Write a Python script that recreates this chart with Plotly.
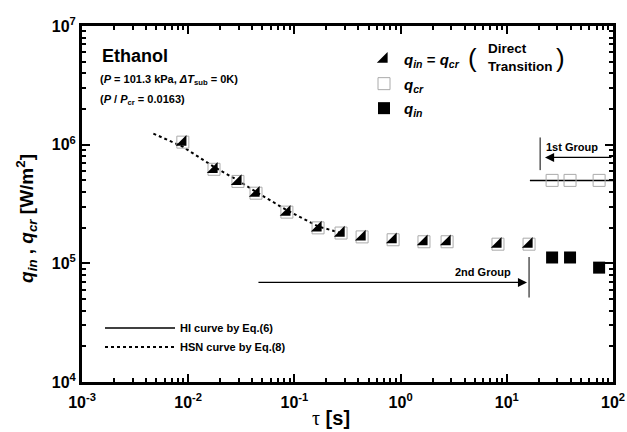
import numpy as np
import plotly.graph_objects as go

# ---- data ----
tau_dt = [0.0089, 0.0175, 0.0294, 0.0435, 0.085, 0.167, 0.275, 0.434, 0.85, 1.66, 2.74, 8.26, 16.2]
q_dt = [1.05e6, 6.2e5, 4.9e5, 3.9e5, 2.7e5, 1.99e5, 1.8e5, 1.67e5, 1.58e5, 1.52e5, 1.52e5, 1.45e5, 1.45e5]

tau_g1 = [26.7, 39.4, 74.0]
q_cr_g1 = [5.0e5, 5.0e5, 5.0e5]
q_in_g1 = [1.12e5, 1.12e5, 9.2e4]

hi_tau = [16.5, 100.0]
hi_q = [5.0e5, 5.0e5]

hsn_tau = [0.0047, 0.0089, 0.0175, 0.0294, 0.0435, 0.085, 0.167, 0.275]
hsn_q = [1.24e6, 9.6e5, 6.5e5, 5.0e5, 4.0e5, 2.8e5, 2.05e5, 1.8e5]

# group markers
g1_line_tau = [20.6, 20.6]
g1_line_q = [6.1e5, 1.15e6]
g1_arrow_tau = [100.0, 22.9]
g1_arrow_q = 7.8e5
g2_line_tau = [16.2, 16.2]
g2_line_q = [5.15e4, 1.13e5]
g2_arrow_tau = [0.0444, 15.5]
g2_arrow_q = 6.9e4

x_ticks = [1e-3, 1e-2, 1e-1, 1e0, 1e1, 1e2]
x_ticktext = ["10<sup>-3</sup>", "10<sup>-2</sup>", "10<sup>-1</sup>", "10<sup>0</sup>", "10<sup>1</sup>", "10<sup>2</sup>"]
y_ticks = [1e4, 1e5, 1e6, 1e7]
y_ticktext = ["10<sup>4</sup>", "10<sup>5</sup>", "10<sup>6</sup>", "10<sup>7</sup>"]

FONT = "Liberation Sans, Arial, sans-serif"

x_minor = [k * 10.0 ** n for n in range(-3, 2) for k in range(2, 10)]
y_minor = [k * 10.0 ** n for n in range(4, 7) for k in range(2, 10)]

fig = go.Figure()

# curves (bottom-left legend)
fig.add_trace(go.Scatter(x=hi_tau, y=hi_q, mode="lines", line=dict(color="black", width=1.5),
                         name="<b>HI curve by Eq.(6)</b>", legend="legend2"))
fig.add_trace(go.Scatter(x=hsn_tau, y=hsn_q, mode="lines", line=dict(color="black", width=2, dash="dot"),
                         name="<b>HSN curve by Eq.(8)</b>", legend="legend2"))

# direct transition: dotted outline + filled lower-right triangle
fig.add_trace(go.Scatter(x=tau_dt, y=q_dt, mode="markers", showlegend=False,
                         marker=dict(symbol="square-open", size=12, color="#aaaaaa", line=dict(width=1))))
fig.add_trace(go.Scatter(x=tau_dt, y=q_dt, mode="markers", legendgroup="a",
                         name="<b><i>q<sub>in</sub></i> = <i>q<sub>cr</sub></i></b>",
                         marker=dict(symbol="triangle-se", size=12, color="black")))
fig.add_trace(go.Scatter(x=tau_g1, y=q_cr_g1, mode="markers", legendgroup="b",
                         name="<b><i>q<sub>cr</sub></i></b>",
                         marker=dict(symbol="square-open", size=12, color="#aaaaaa", line=dict(width=1))))
fig.add_trace(go.Scatter(x=tau_g1, y=q_in_g1, mode="markers", legendgroup="c",
                         name="<b><i>q<sub>in</sub></i></b>",
                         marker=dict(symbol="square", size=12, color="black")))

# group boundary lines
fig.add_trace(go.Scatter(x=g1_line_tau, y=g1_line_q, mode="lines", showlegend=False,
                         line=dict(color="black", width=1)))
fig.add_trace(go.Scatter(x=g2_line_tau, y=g2_line_q, mode="lines", showlegend=False,
                         line=dict(color="black", width=1)))

def px_x(p):
    return (p - 82) / 531.0

def px_y(p):
    return 1 - (p - 25) / 358.0

ann = []
# arrows (log axes -> log10 coordinates for annotations)
ann.append(dict(x=np.log10(g1_arrow_tau[1]), y=np.log10(g1_arrow_q), ax=np.log10(g1_arrow_tau[0]),
                ay=np.log10(g1_arrow_q), xref="x", yref="y", axref="x", ayref="y", text="",
                showarrow=True, arrowhead=2, arrowsize=1.4, arrowwidth=1.3, arrowcolor="black"))
ann.append(dict(x=np.log10(g2_arrow_tau[1]), y=np.log10(g2_arrow_q), ax=np.log10(g2_arrow_tau[0]),
                ay=np.log10(g2_arrow_q), xref="x", yref="y", axref="x", ayref="y", text="",
                showarrow=True, arrowhead=2, arrowsize=1.4, arrowwidth=1.3, arrowcolor="black"))

def txt(text, x, y, size, xanchor="left", **kw):
    d = dict(text=text, x=px_x(x), y=px_y(y), xref="paper", yref="paper", showarrow=False,
             xanchor=xanchor, yanchor="middle", font=dict(size=size, family=FONT, color="black"))
    d.update(kw)
    ann.append(d)

txt("<b>Ethanol</b>", 100, 55, 18)
txt("<b>(<i>P</i> = 101.3 kPa, <i>ΔT</i><sub>sub</sub> = 0K)</b>", 98, 79, 11)
txt("<b>(<i>P</i> / <i>P</i><sub>cr</sub> = 0.0163)</b>", 98, 99, 11)
txt("(", 472, 57, 26, xanchor="center")
txt("<b>Direct<br>Transition</b>", 486, 57, 13.5, align="left")
txt(")", 560, 57, 26, xanchor="center")
txt("<b>1st Group</b>", 544, 147, 11)
txt("<b>2nd Group</b>", 513, 272, 11, xanchor="right")
txt("<b><i>q<sub>in</sub></i> , <i>q<sub>cr</sub></i> [W/m<sup>2</sup>]</b>", 27, 219, 19,
    xanchor="center", textangle=-90)
txt("<span style='font-family:Liberation Serif'>τ</span> <b>[s]</b>", 331, 419, 20, xanchor="center")

axis_common = dict(
    type="log", showgrid=False, zeroline=False, showline=True, linewidth=3, linecolor="black",
    mirror="allticks", ticks="inside", ticklen=8, tickwidth=2, tickcolor="black",
    tickfont=dict(size=16, family=FONT, color="black"), automargin=False,
)

fig.update_layout(
    width=627, height=432,
    margin=dict(l=82, r=14, t=26, b=50),
    paper_bgcolor="white", plot_bgcolor="white",
    font=dict(family=FONT, color="black"),
    xaxis=dict(range=[-3, 2], tickvals=x_ticks, ticktext=["<b>" + t + "</b>" for t in x_ticktext],
               ticklabelstandoff=4,
               minor=dict(tickvals=x_minor, ticks="inside", ticklen=4, tickwidth=1.5, tickcolor="black",
                          showgrid=False),
               **axis_common),
    yaxis=dict(range=[4, 7], tickvals=y_ticks, ticktext=["<b>" + t + "</b>" for t in y_ticktext],
               minor=dict(tickvals=y_minor, ticks="inside", ticklen=4, tickwidth=1.5, tickcolor="black",
                          showgrid=False),
               **axis_common),
    legend=dict(x=px_x(364), y=px_y(42), xanchor="left", yanchor="top", bgcolor="rgba(0,0,0,0)",
                font=dict(size=15, family=FONT, color="black"), tracegroupgap=2, itemsizing="trace"),
    legend2=dict(x=px_x(100), y=px_y(314), xanchor="left", yanchor="top", bgcolor="rgba(0,0,0,0)",
                 font=dict(size=11, family=FONT, color="black"), itemwidth=70),
    annotations=ann,
    showlegend=True,
)

fig.write_html(
    "out.html",
    config={"responsive": False, "displayModeBar": False},
    post_script="document.body.style.margin='0';document.body.style.padding='0';",
)
